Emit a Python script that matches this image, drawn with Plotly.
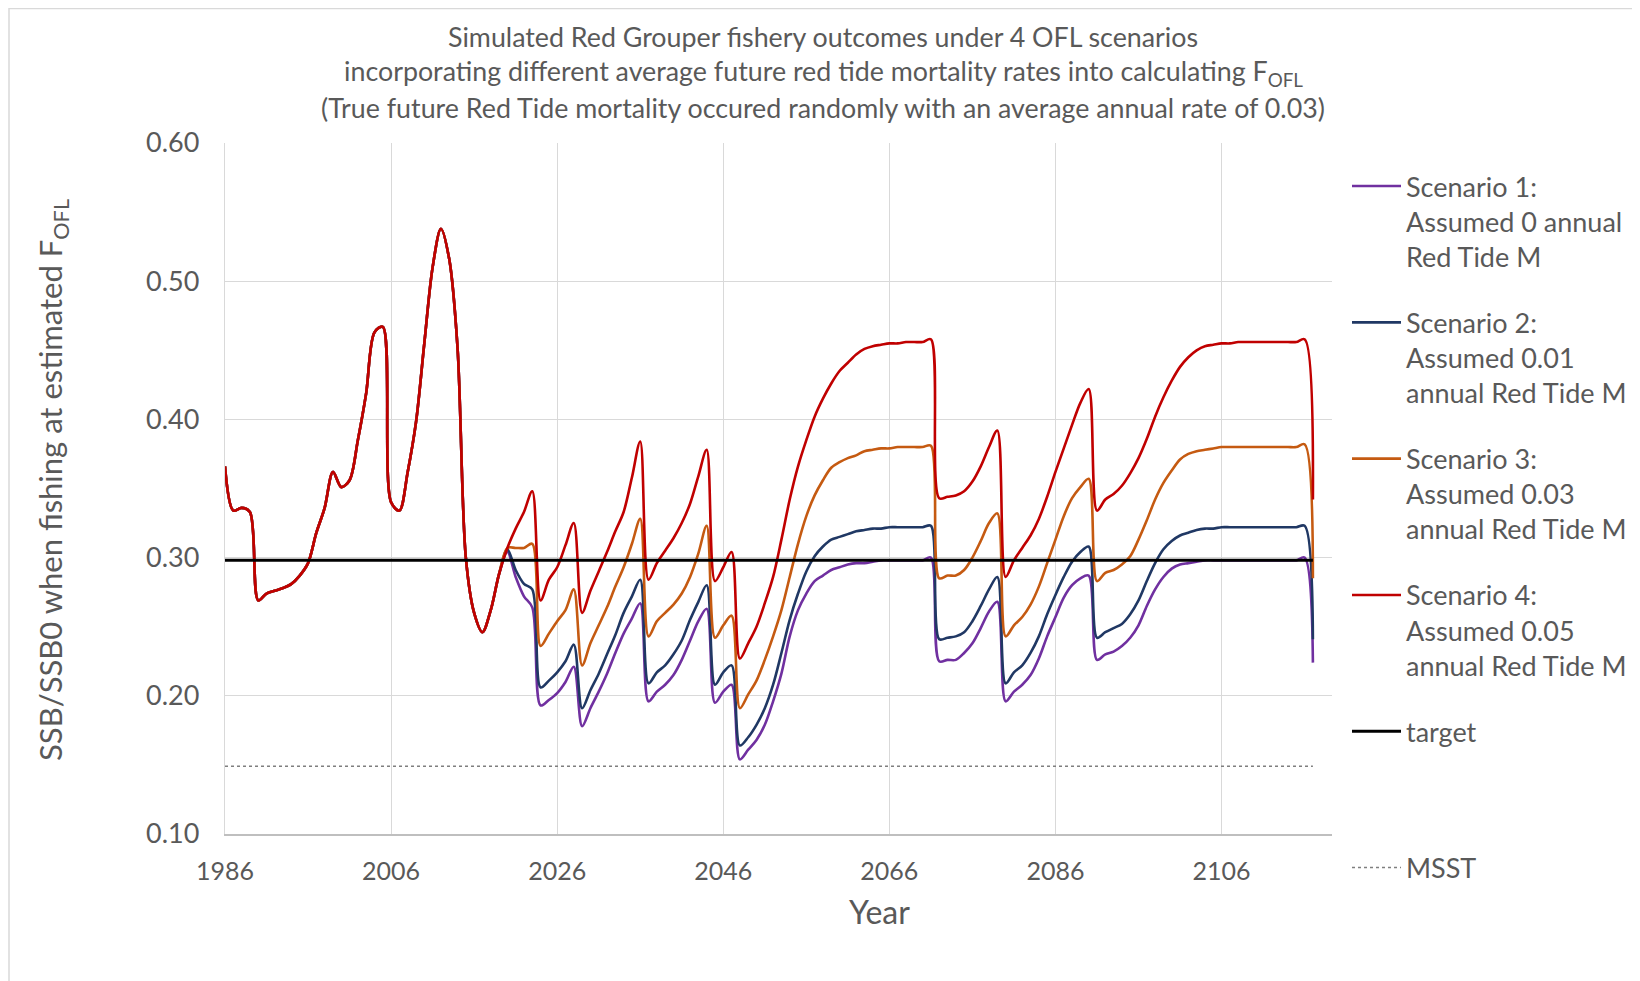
import plotly.graph_objects as go

# ---------------- data ----------------
years = list(range(1986, 2118))

# shared history 1986-2019
history = [0.366, 0.334, 0.336, 0.333, 0.269, 0.274, 0.276, 0.278, 0.281, 0.287,
           0.296, 0.318, 0.336, 0.362, 0.351, 0.356, 0.385, 0.419, 0.463, 0.467,
           0.340, 0.334, 0.362, 0.398, 0.455, 0.510, 0.538, 0.516, 0.452, 0.300,
           0.260, 0.246, 0.262, 0.288]

# projections 2020-2117
scen1 = [0.304, 0.286, 0.272, 0.264, 0.193, 0.197, 0.202, 0.210, 0.221, 0.178,
         0.191, 0.203, 0.216, 0.231, 0.245, 0.256, 0.267, 0.196, 0.203, 0.208,
         0.215, 0.226, 0.240, 0.254, 0.263, 0.195, 0.203, 0.208, 0.154, 0.161,
         0.168, 0.179, 0.196, 0.216, 0.243, 0.262, 0.274, 0.283, 0.287, 0.291,
         0.293, 0.295, 0.296, 0.296, 0.297, 0.298, 0.298, 0.298, 0.298, 0.298,
         0.298, 0.300, 0.225, 0.226, 0.226, 0.231, 0.238, 0.249, 0.261, 0.268,
         0.196, 0.203, 0.208, 0.215, 0.227, 0.243, 0.257, 0.271, 0.280, 0.285,
         0.287, 0.226, 0.230, 0.232, 0.236, 0.242, 0.251, 0.265, 0.277, 0.286,
         0.292, 0.295, 0.296, 0.297, 0.298, 0.298, 0.298, 0.298, 0.298, 0.298,
         0.298, 0.298, 0.298, 0.298, 0.298, 0.298, 0.300, 0.224]

scen2 = [0.306, 0.291, 0.281, 0.277, 0.206, 0.211, 0.217, 0.225, 0.237, 0.191,
         0.204, 0.216, 0.230, 0.244, 0.260, 0.272, 0.284, 0.209, 0.217, 0.222,
         0.230, 0.240, 0.255, 0.268, 0.280, 0.208, 0.217, 0.222, 0.164, 0.170,
         0.179, 0.191, 0.208, 0.231, 0.255, 0.274, 0.290, 0.301, 0.308, 0.313,
         0.315, 0.317, 0.319, 0.320, 0.321, 0.321, 0.322, 0.322, 0.322, 0.322,
         0.322, 0.323, 0.241, 0.242, 0.243, 0.246, 0.254, 0.265, 0.277, 0.286,
         0.209, 0.217, 0.222, 0.231, 0.243, 0.259, 0.273, 0.286, 0.297, 0.304,
         0.308, 0.242, 0.246, 0.249, 0.252, 0.259, 0.269, 0.283, 0.296, 0.306,
         0.312, 0.316, 0.318, 0.320, 0.321, 0.321, 0.322, 0.322, 0.322, 0.322,
         0.322, 0.322, 0.322, 0.322, 0.322, 0.322, 0.323, 0.241]

scen3 = [0.307, 0.307, 0.307, 0.310, 0.236, 0.245, 0.254, 0.262, 0.277, 0.222,
         0.238, 0.251, 0.264, 0.279, 0.293, 0.310, 0.328, 0.243, 0.254, 0.260,
         0.266, 0.274, 0.286, 0.303, 0.323, 0.242, 0.251, 0.258, 0.191, 0.201,
         0.211, 0.226, 0.243, 0.262, 0.286, 0.310, 0.330, 0.345, 0.356, 0.365,
         0.369, 0.372, 0.374, 0.377, 0.378, 0.379, 0.379, 0.380, 0.380, 0.380,
         0.380, 0.381, 0.285, 0.287, 0.287, 0.291, 0.300, 0.312, 0.325, 0.332,
         0.243, 0.251, 0.257, 0.266, 0.279, 0.296, 0.313, 0.330, 0.343, 0.351,
         0.357, 0.283, 0.289, 0.291, 0.295, 0.301, 0.313, 0.327, 0.342, 0.354,
         0.363, 0.371, 0.375, 0.377, 0.378, 0.379, 0.380, 0.380, 0.380, 0.380,
         0.380, 0.380, 0.380, 0.380, 0.380, 0.380, 0.382, 0.285]

scen4 = [0.307, 0.321, 0.333, 0.348, 0.269, 0.284, 0.293, 0.309, 0.325, 0.260,
         0.276, 0.290, 0.304, 0.319, 0.333, 0.358, 0.384, 0.284, 0.296, 0.305,
         0.314, 0.325, 0.339, 0.359, 0.378, 0.283, 0.293, 0.304, 0.227, 0.238,
         0.250, 0.267, 0.286, 0.313, 0.342, 0.366, 0.385, 0.402, 0.415, 0.426,
         0.435, 0.441, 0.447, 0.451, 0.453, 0.454, 0.455, 0.455, 0.456, 0.456,
         0.456, 0.458, 0.343, 0.344, 0.345, 0.348, 0.355, 0.366, 0.380, 0.392,
         0.286, 0.298, 0.307, 0.316, 0.328, 0.344, 0.362, 0.379, 0.396, 0.412,
         0.422, 0.334, 0.342, 0.346, 0.352, 0.361, 0.372, 0.386, 0.402, 0.416,
         0.428, 0.438, 0.445, 0.450, 0.453, 0.454, 0.455, 0.455, 0.456, 0.456,
         0.456, 0.456, 0.456, 0.456, 0.456, 0.456, 0.458, 0.342]

target_value = 0.298
msst_value = 0.149

scenario_names = [
    "Scenario 1:<br>Assumed 0 annual<br>Red Tide M",
    "Scenario 2:<br>Assumed 0.01<br>annual Red Tide M",
    "Scenario 3:<br>Assumed 0.03<br>annual Red Tide M",
    "Scenario 4:<br>Assumed 0.05<br>annual Red Tide M",
]
scenario_colors = ["#7030A0", "#203864", "#C55A11", "#C00000"]

x_ticks = [1986, 2006, 2026, 2046, 2066, 2086, 2106]
y_ticks = [0.10, 0.20, 0.30, 0.40, 0.50, 0.60]

title_lines = [
    "Simulated Red Grouper fishery outcomes under 4 OFL scenarios",
    "incorporating different average future red tide mortality rates into calculating F<sub>OFL</sub>",
    "(True future Red Tide mortality occured randomly with an average annual rate of 0.03)",
]
y_title = "SSB/SSB0 when fishing at estimated F<sub>OFL</sub>"
x_title = "Year"

# ---------------- figure ----------------
FONT = "Lato"
GREY = "#595959"
OFF = 8                      # page body margin
W, H = 1640 - OFF, 981 - OFF
L, R, T, B = 225 - OFF, 1332 - OFF, 143 - OFF, 834 - OFF  # plot area in px


def px(xp):
    return (xp - OFF - L) / (R - L)


def py(yp):
    return (B - (yp - OFF)) / (B - T)


fig = go.Figure()
for name, col, proj in zip(scenario_names, scenario_colors, [scen1, scen2, scen3, scen4]):
    fig.add_trace(go.Scatter(
        x=years, y=history + proj, mode="lines", name=name,
        legendgroup=name,
        line=dict(color=col, width=2.6, shape="spline", smoothing=0.9),
    ))

fig.add_trace(go.Scatter(
    x=years, y=[target_value] * len(years), mode="lines",
    name="target<br> <br> ", legendgroup="target",
    line=dict(color="#000000", width=3),
))
fig.add_trace(go.Scatter(
    x=years, y=[msst_value] * len(years), mode="lines",
    name="MSST", legendgroup="msst",
    line=dict(color="#7F7F7F", width=1.6, dash="dot"),
))

annotations = []
for txt, yy in zip(title_lines, [37, 73, 108]):
    annotations.append(dict(
        text=txt, x=px(823), y=py(yy), xref="paper", yref="paper",
        xanchor="center", yanchor="middle", showarrow=False,
        font=dict(family=FONT, size=26.8, color=GREY),
    ))
annotations.append(dict(
    text=y_title, x=px(53), y=py(480), xref="paper", yref="paper",
    xanchor="center", yanchor="middle", showarrow=False, textangle=-90,
    font=dict(family=FONT, size=31, color=GREY),
))
annotations.append(dict(
    text=x_title, x=px(879), y=py(911), xref="paper", yref="paper",
    xanchor="center", yanchor="middle", showarrow=False,
    font=dict(family=FONT, size=32, color=GREY),
))

shapes = [
    dict(type="rect", xref="paper", yref="paper",
         x0=px(9), x1=px(1637), y0=py(995), y1=py(8.5),
         line=dict(color="#D9D9D9", width=1.5), fillcolor="rgba(0,0,0,0)", layer="below"),
]

fig.update_layout(
    width=W, height=H,
    margin=dict(l=L, r=W - R, t=T, b=H - B, pad=0, autoexpand=False),
    paper_bgcolor="white", plot_bgcolor="white",
    font=dict(family=FONT, color=GREY),
    showlegend=True,
    legend=dict(
        x=px(1347), y=py(162), xanchor="left", yanchor="top",
        font=dict(family=FONT, size=27, color=GREY),
        valign="top", tracegroupgap=28, itemwidth=49, maxheight=900,
        bgcolor="rgba(0,0,0,0)", borderwidth=0,
    ),
    annotations=annotations,
    shapes=shapes,
    xaxis=dict(
        range=[1986, 2119.3], tickvals=x_ticks, ticktext=[str(v) for v in x_ticks],
        showgrid=True, gridcolor="#D9D9D9", gridwidth=1.3,
        showline=True, linecolor="#BFBFBF", linewidth=1.5,
        zeroline=False, ticks="", ticklabelstandoff=14,
        tickfont=dict(family=FONT, size=25, color=GREY),
    ),
    yaxis=dict(
        range=[0.10, 0.60], tickvals=y_ticks, tickformat=".2f",
        showgrid=True, gridcolor="#D9D9D9", gridwidth=1.3,
        showline=True, linecolor="#D9D9D9", linewidth=1.3,
        zeroline=False, ticks="", ticklabelstandoff=19,
        tickfont=dict(family=FONT, size=27, color=GREY),
    ),
)

fig.write_html("out.html")
